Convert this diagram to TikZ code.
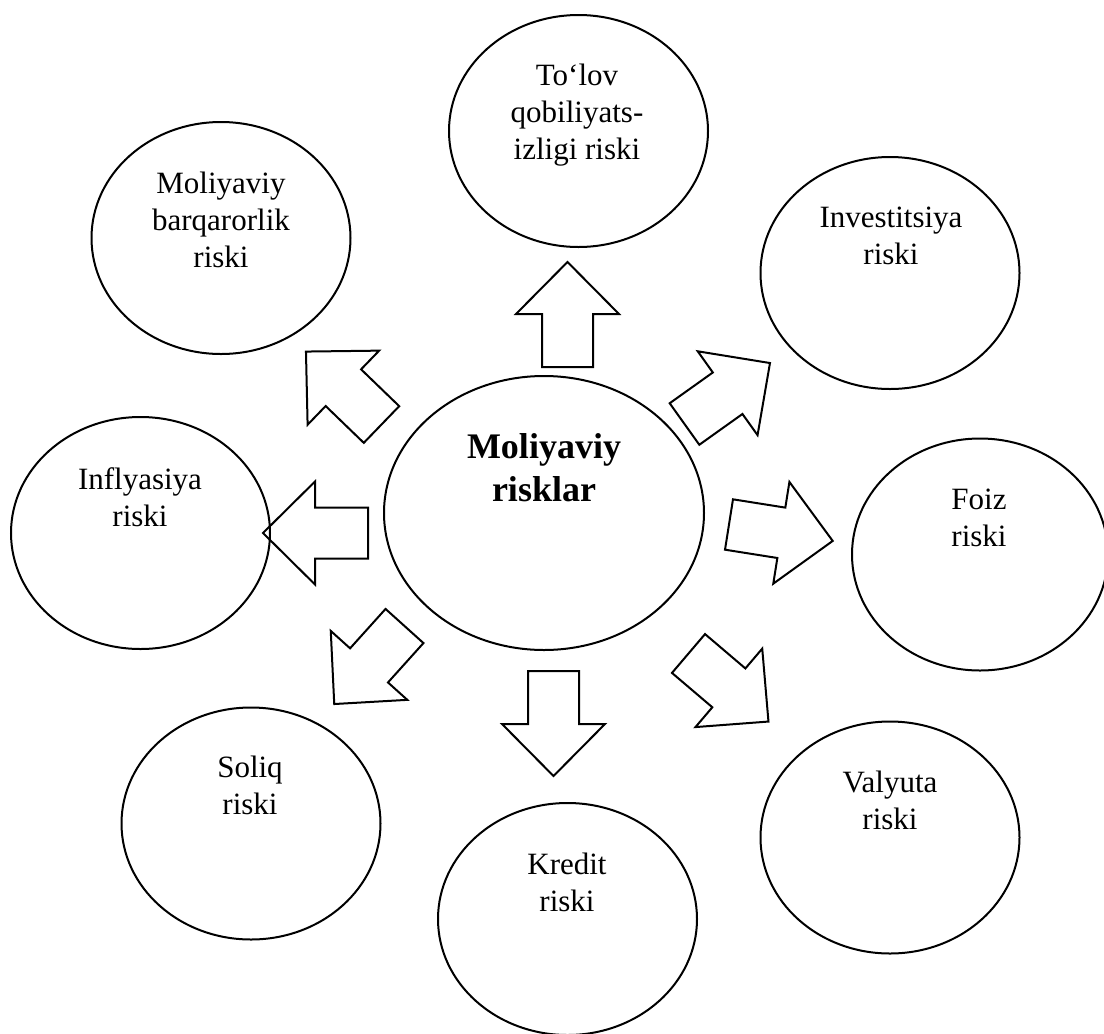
\documentclass[tikz,border=0pt]{standalone}
\usepackage{fontspec}
\setmainfont{Liberation Serif}
\usetikzlibrary{shapes.geometric}
\tikzset{
  oval/.style={draw, line width=2pt, ellipse, minimum width=259pt, minimum height=232pt, inner sep=0pt},
  bigoval/.style={oval, minimum width=320pt, minimum height=274pt},
  lbl/.style={anchor=north, inner sep=0pt, align=center, font=\fontsize{31}{37}\selectfont},
  biglbl/.style={anchor=north, inner sep=0pt, align=center, font=\fontsize{36}{43}\selectfont\bfseries},
  barrow/.style={draw, line width=2pt, line join=miter},
}
\newcommand\myblockarrow[4]{% name, tail x, tail y, angle
  \coordinate (#1) at (#2,#3);
  \begin{scope}[shift={(#1)}, rotate=#4]
    \draw[barrow] (0,-25.5) -- (53,-25.5) -- (53,-51.5) -- (105,0) -- (53,51.5) -- (53,25.5) -- (0,25.5) -- cycle;
  \end{scope}}
\begin{document}
\begin{tikzpicture}[x=1pt, y=-1pt]
  \useasboundingbox (0,0) rectangle (1104,1034);
  % ellipses
  \node[bigoval] (center) at (544,513) {};
  \node[oval] (tolov) at (578.5,131) {};
  \node[oval] (barq) at (221,238) {};
  \node[oval] (invest) at (890,273) {};
  \node[oval] (infl) at (140.5,533) {};
  \node[oval, minimum width=256pt] (foiz) at (980,554.5) {};
  \node[oval] (soliq) at (251,823.5) {};
  \node[oval] (kredit) at (567.5,919) {};
  \node[oval] (valyuta) at (890,837.5) {};
  % labels
  \node[biglbl] (center-t) at (544,433.5) {Moliyaviy\\risklar};
  \node[lbl] (tolov-t) at (577,64) {To‘lov\\qobiliyats-\\izligi riski};
  \node[lbl] (barq-t) at (221,172) {Moliyaviy\\barqarorlik\\riski};
  \node[lbl] (invest-t) at (891,207) {Investitsiya\\riski};
  \node[lbl] (infl-t) at (140,467) {Inflyasiya\\riski};
  \node[lbl] (foiz-t) at (979,489) {Foiz\\riski};
  \node[lbl] (soliq-t) at (250,756) {Soliq\\riski};
  \node[lbl] (kredit-t) at (567,853) {Kredit\\riski};
  \node[lbl] (valyuta-t) at (890,771) {Valyuta\\riski};
  % block arrows
  \myblockarrow{aN}{567.5}{367}{90}
  \myblockarrow{aNE}{684.5}{424}{35.5}
  \myblockarrow{aE}{729}{524.5}{-9}
  \myblockarrow{aSE}{688.5}{653.5}{-40.4}
  \myblockarrow{aS}{553.5}{671}{-90}
  \myblockarrow{aSW}{404.5}{626}{-132}
  \myblockarrow{aW}{368}{533}{180}
  \myblockarrow{aNW}{381.5}{424.5}{136}
\end{tikzpicture}
\end{document}
